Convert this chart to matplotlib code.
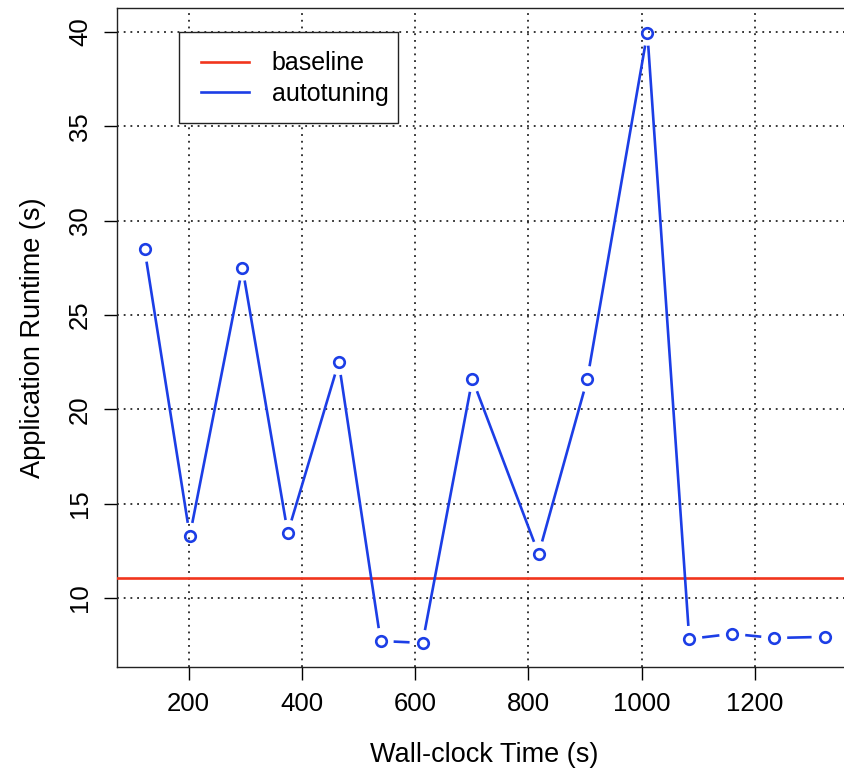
import matplotlib
matplotlib.use('Agg')
import matplotlib.pyplot as plt
from matplotlib.lines import Line2D
from matplotlib.patches import Rectangle
import numpy as np

plt.rcParams['font.family'] = ['Liberation Sans', 'DejaVu Sans']

# ---- data ----
time_s = [122, 202, 295, 375, 465, 539, 613, 701, 818, 904, 1010, 1084, 1160, 1234, 1323]
runtime_s = [28.5, 13.3, 27.5, 13.45, 22.5, 7.72, 7.62, 21.6, 12.33, 21.6, 39.95, 7.83, 8.1, 7.88, 7.94]
baseline_s = 11.06
x_ticks = [200, 400, 600, 800, 1000, 1200]
y_ticks = [10, 15, 20, 25, 30, 35, 40]
series_names = ['baseline', 'autotuning']

BLUE = '#1c3ee6'
RED = '#f1351d'
TICK_FS = 18.5
LAB_FS = 19.5
LEG_FS = 18

W, H = 845, 772
fig = plt.figure(figsize=(W / 100, H / 100), dpi=100)
ax = fig.add_axes([117.3 / W, 1 - 667.3 / H, 734.5 / W, 659.0 / H])

xmin, xmax = min(time_s), max(time_s)
ymin, ymax = min(runtime_s), max(runtime_s)
xs, ys = xmax - xmin, ymax - ymin
ax.set_xlim(xmin - 0.04 * xs, xmax + 0.04 * xs)
ax.set_ylim(ymin - 0.04 * ys, ymax + 0.04 * ys)

ax.set_xticks(x_ticks)
ax.set_yticks(y_ticks)
ax.set_yticklabels([str(v) for v in y_ticks], rotation=90, va='center')
ax.tick_params(axis='both', direction='out', length=9.3, width=1.0, labelsize=TICK_FS, color='black')
ax.tick_params(axis='x', pad=8.5)
ax.tick_params(axis='y', pad=9)

for s in ax.spines.values():
    s.set_linewidth(1.0)
    s.set_color('#222222')

ax.grid(True, color='black', linestyle=(0, (1.2, 3.2)), linewidth=1.1)
ax.set_axisbelow(True)

# baseline
ax.axhline(baseline_s, color=RED, linewidth=1.9, zorder=3)

# autotuning line with gaps around points (R type="b")
fig.canvas.draw()
pts = ax.transData.transform(np.column_stack([time_s, runtime_s]))
gap = 13.0
inv = ax.transData.inverted()
for i in range(len(pts) - 1):
    p0, p1 = pts[i], pts[i + 1]
    d = p1 - p0
    L = np.hypot(*d)
    if L <= 2 * gap:
        continue
    u = d / L
    a = inv.transform(p0 + u * gap)
    b = inv.transform(p1 - u * gap)
    ax.plot([a[0], b[0]], [a[1], b[1]], color=BLUE, linewidth=1.9, solid_capstyle='butt', zorder=4)
ax.plot(time_s, runtime_s, linestyle='none', marker='o', markersize=7.6,
        markerfacecolor='none', markeredgecolor=BLUE, markeredgewidth=1.9, zorder=5)

ax.set_xlabel('Wall-clock Time (s)', fontsize=LAB_FS, labelpad=19)
ax.set_ylabel('Application Runtime (s)', fontsize=LAB_FS, labelpad=16)

# legend (R-style box: wider left padding)
handles = [Line2D([], [], color=RED, linewidth=1.9), Line2D([], [], color=BLUE, linewidth=1.9)]
leg = ax.legend(handles, series_names, loc='center left',
                bbox_to_anchor=(200.7 / W, 1 - 78.5 / H), bbox_transform=fig.transFigure,
                borderaxespad=0, borderpad=0, fontsize=LEG_FS, frameon=False,
                labelspacing=0.24, handlelength=1.92, handletextpad=0.92)
fig.canvas.draw()
ext = leg.get_window_extent()
cy = (1 - 77.5 / H) * H
x0 = ext.x0 - 21.7
x1 = ext.x1 + 10.0
box_h = 91.6
rect = Rectangle((x0 / W, (cy - box_h / 2) / H), (x1 - x0) / W, box_h / H,
                 transform=fig.transFigure, fill=True, facecolor='white',
                 edgecolor='#222222', linewidth=1.0, zorder=6)
ax.add_artist(rect)
rect.set_clip_on(False)
leg.set_zorder(7)

fig.savefig('out.png', dpi=100)
